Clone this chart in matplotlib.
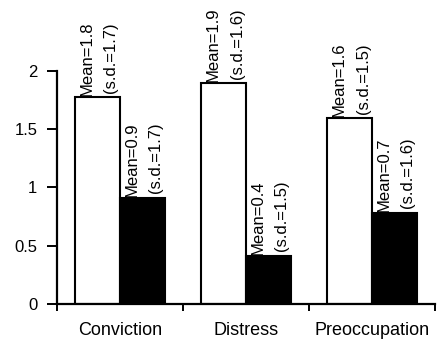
import numpy as np
import matplotlib.pyplot as plt

categories = ['Conviction', 'Distress', 'Preoccupation']
white_vals = [1.77, 1.89, 1.59]
black_vals = [0.91, 0.41, 0.78]
white_mean = ['Mean=1.8', 'Mean=1.9', 'Mean=1.6']
white_sd = ['(s.d.=1.7)', '(s.d.=1.6)', '(s.d.=1.5)']
black_mean = ['Mean=0.9', 'Mean=0.4', 'Mean=0.7']
black_sd = ['(s.d.=1.7)', '(s.d.=1.5)', '(s.d.=1.6)']

plt.rcParams['font.family'] = ['Liberation Sans', 'DejaVu Sans']

fig = plt.figure(figsize=(4.44, 3.43), dpi=100)
ax = fig.add_axes([0.128, 0.114, 0.852, 0.68])

x = np.arange(len(categories))
w = 0.355
ax.bar(x - w / 2, white_vals, w, color='white', edgecolor='black', linewidth=1.5)
ax.bar(x + w / 2, black_vals, w, color='black', edgecolor='black', linewidth=1.5)

# labels over bars, two rotated lines
fs = 12
for i in range(len(categories)):
    left = x[i] - w
    ax.text(left + 0.27 * w, white_vals[i] + 0.01, white_mean[i], rotation=90,
            ha='center', va='bottom', fontsize=fs, clip_on=False)
    ax.text(left + 0.8 * w, white_vals[i] + 0.04, white_sd[i], rotation=90,
            ha='center', va='bottom', fontsize=fs, clip_on=False)
    left = x[i]
    ax.text(left + 0.27 * w, black_vals[i] + 0.01, black_mean[i], rotation=90,
            ha='center', va='bottom', fontsize=fs, clip_on=False)
    ax.text(left + 0.8 * w, black_vals[i] + 0.04, black_sd[i], rotation=90,
            ha='center', va='bottom', fontsize=fs, clip_on=False)

ax.set_xlim(-0.5, 2.5)
ax.set_ylim(0, 2)
ax.set_yticks([0, 0.5, 1, 1.5, 2])
ax.set_yticklabels(['0', '0.5', '1', '1.5', '2'])
ax.set_xticks(x)
ax.set_xticklabels(categories)
ax.set_xticks([-0.5, 0.5, 1.5, 2.5], minor=True)

for s in ['top', 'right']:
    ax.spines[s].set_visible(False)
ax.spines['left'].set_linewidth(1.6)
ax.spines['bottom'].set_linewidth(1.6)

ax.tick_params(axis='x', which='major', length=0, pad=13, labelsize=13)
ax.tick_params(axis='x', which='minor', length=5, width=1.4, direction='out')
ax.tick_params(axis='y', length=7, width=1.4, pad=7, labelsize=12)

plt.savefig('out.png', dpi=100)
